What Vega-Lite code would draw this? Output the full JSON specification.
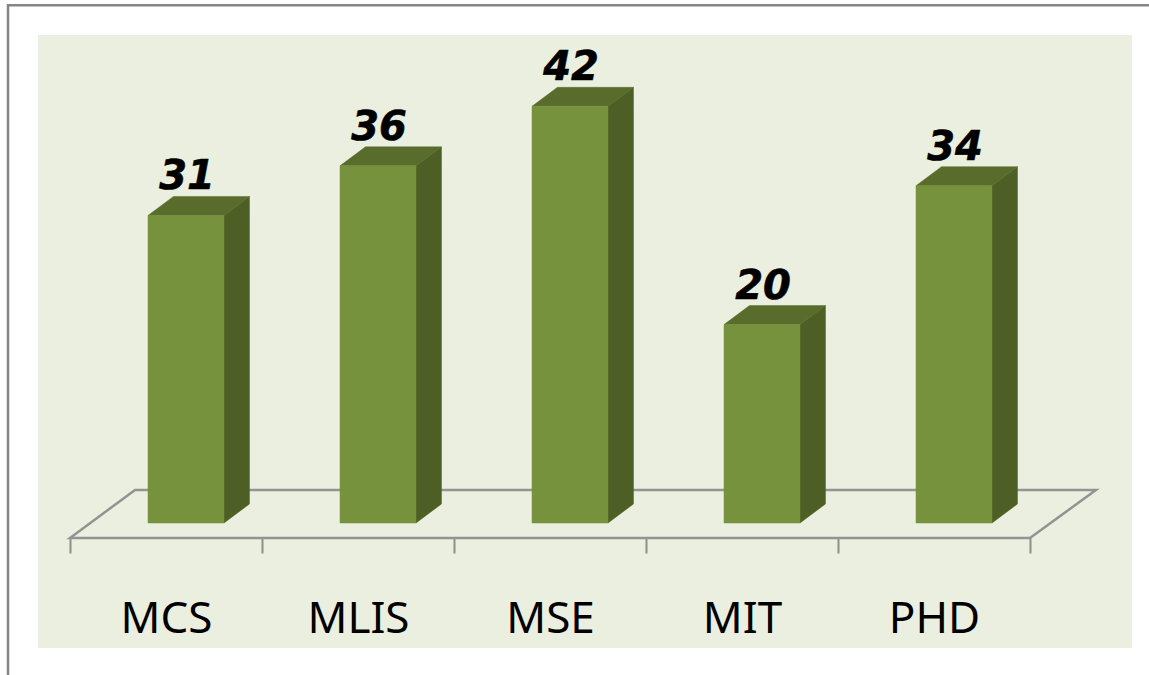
{
  "$schema": "https://vega.github.io/schema/vega-lite/v6.json",
  "width": 1094,
  "height": 613,
  "padding": {"left": 38, "top": 35, "right": 17, "bottom": 27},
  "autosize": "none",
  "background": "#ffffff",
  "view": {"fill": "#EBEFDF", "stroke": null},
  "datasets": {
    "bars": [
      {"program": "MCS", "students": 31},
      {"program": "MLIS", "students": 36},
      {"program": "MSE", "students": 42},
      {"program": "MIT", "students": 20},
      {"program": "PHD", "students": 34}
    ],
    "corners": [
      {"program": "MCS", "face": "side", "k": 1, "u": 1, "level": 31},
      {"program": "MCS", "face": "side", "k": 2, "u": 1.335, "level": 32.915},
      {"program": "MCS", "face": "side", "k": 3, "u": 1.335, "level": 1.915},
      {"program": "MCS", "face": "side", "k": 4, "u": 1, "level": 0},
      {"program": "MLIS", "face": "side", "k": 1, "u": 1, "level": 36},
      {"program": "MLIS", "face": "side", "k": 2, "u": 1.335, "level": 37.915},
      {"program": "MLIS", "face": "side", "k": 3, "u": 1.335, "level": 1.915},
      {"program": "MLIS", "face": "side", "k": 4, "u": 1, "level": 0},
      {"program": "MSE", "face": "side", "k": 1, "u": 1, "level": 42},
      {"program": "MSE", "face": "side", "k": 2, "u": 1.335, "level": 43.915},
      {"program": "MSE", "face": "side", "k": 3, "u": 1.335, "level": 1.915},
      {"program": "MSE", "face": "side", "k": 4, "u": 1, "level": 0},
      {"program": "MIT", "face": "side", "k": 1, "u": 1, "level": 20},
      {"program": "MIT", "face": "side", "k": 2, "u": 1.335, "level": 21.915},
      {"program": "MIT", "face": "side", "k": 3, "u": 1.335, "level": 1.915},
      {"program": "MIT", "face": "side", "k": 4, "u": 1, "level": 0},
      {"program": "PHD", "face": "side", "k": 1, "u": 1, "level": 34},
      {"program": "PHD", "face": "side", "k": 2, "u": 1.335, "level": 35.915},
      {"program": "PHD", "face": "side", "k": 3, "u": 1.335, "level": 1.915},
      {"program": "PHD", "face": "side", "k": 4, "u": 1, "level": 0},
      {"program": "MCS", "face": "top", "k": 1, "u": 0, "level": 31},
      {"program": "MCS", "face": "top", "k": 2, "u": 1, "level": 31},
      {"program": "MCS", "face": "top", "k": 3, "u": 1.335, "level": 32.915},
      {"program": "MCS", "face": "top", "k": 4, "u": 0.335, "level": 32.915},
      {"program": "MLIS", "face": "top", "k": 1, "u": 0, "level": 36},
      {"program": "MLIS", "face": "top", "k": 2, "u": 1, "level": 36},
      {"program": "MLIS", "face": "top", "k": 3, "u": 1.335, "level": 37.915},
      {"program": "MLIS", "face": "top", "k": 4, "u": 0.335, "level": 37.915},
      {"program": "MSE", "face": "top", "k": 1, "u": 0, "level": 42},
      {"program": "MSE", "face": "top", "k": 2, "u": 1, "level": 42},
      {"program": "MSE", "face": "top", "k": 3, "u": 1.335, "level": 43.915},
      {"program": "MSE", "face": "top", "k": 4, "u": 0.335, "level": 43.915},
      {"program": "MIT", "face": "top", "k": 1, "u": 0, "level": 20},
      {"program": "MIT", "face": "top", "k": 2, "u": 1, "level": 20},
      {"program": "MIT", "face": "top", "k": 3, "u": 1.335, "level": 21.915},
      {"program": "MIT", "face": "top", "k": 4, "u": 0.335, "level": 21.915},
      {"program": "PHD", "face": "top", "k": 1, "u": 0, "level": 34},
      {"program": "PHD", "face": "top", "k": 2, "u": 1, "level": 34},
      {"program": "PHD", "face": "top", "k": 3, "u": 1.335, "level": 35.915},
      {"program": "PHD", "face": "top", "k": 4, "u": 0.335, "level": 35.915},
      {"program": "MCS", "face": "front", "k": 1, "u": 0, "level": 31},
      {"program": "MCS", "face": "front", "k": 2, "u": 1, "level": 31},
      {"program": "MCS", "face": "front", "k": 3, "u": 1, "level": 0},
      {"program": "MCS", "face": "front", "k": 4, "u": 0, "level": 0},
      {"program": "MLIS", "face": "front", "k": 1, "u": 0, "level": 36},
      {"program": "MLIS", "face": "front", "k": 2, "u": 1, "level": 36},
      {"program": "MLIS", "face": "front", "k": 3, "u": 1, "level": 0},
      {"program": "MLIS", "face": "front", "k": 4, "u": 0, "level": 0},
      {"program": "MSE", "face": "front", "k": 1, "u": 0, "level": 42},
      {"program": "MSE", "face": "front", "k": 2, "u": 1, "level": 42},
      {"program": "MSE", "face": "front", "k": 3, "u": 1, "level": 0},
      {"program": "MSE", "face": "front", "k": 4, "u": 0, "level": 0},
      {"program": "MIT", "face": "front", "k": 1, "u": 0, "level": 20},
      {"program": "MIT", "face": "front", "k": 2, "u": 1, "level": 20},
      {"program": "MIT", "face": "front", "k": 3, "u": 1, "level": 0},
      {"program": "MIT", "face": "front", "k": 4, "u": 0, "level": 0},
      {"program": "PHD", "face": "front", "k": 1, "u": 0, "level": 34},
      {"program": "PHD", "face": "front", "k": 2, "u": 1, "level": 34},
      {"program": "PHD", "face": "front", "k": 3, "u": 1, "level": 0},
      {"program": "PHD", "face": "front", "k": 4, "u": 0, "level": 0}
    ],
    "floor": [
      {"program": "MCS", "k": 1, "u": -1.026, "level": -1.51},
      {"program": "MCS", "k": 2, "u": -0.171, "level": 3.33},
      {"program": "PHD", "k": 3, "u": 2.368, "level": 3.33},
      {"program": "PHD", "k": 4, "u": 1.5, "level": -1.51}
    ],
    "frame": [
      {"program": "MCS", "k": 1, "u": -1.842, "level": -16},
      {"program": "MCS", "k": 2, "u": -1.842, "level": 52.2},
      {"program": "PHD", "k": 3, "u": 3.07, "level": 52.2}
    ]
  },
  "encoding": {
    "x": {
      "field": "program",
      "type": "nominal",
      "sort": null,
      "title": null,
      "scale": {"domain": ["MCS", "MLIS", "MSE", "MIT", "PHD"], "range": [32, 992], "paddingInner": 0, "paddingOuter": 0},
      "axis": {
        "orient": "bottom",
        "offset": -110,
        "domain": false,
        "tickBand": "extent",
        "tickSize": 15,
        "tickColor": "#8f8f8f",
        "tickWidth": 2,
        "labelAngle": 0,
        "labelFont": "Noto Sans",
        "labelFontSize": 44,
        "labelColor": "#000000",
        "labelPadding": 44,
        "labelBaseline": "top",
        "grid": false
      }
    },
    "y": {
      "field": "level",
      "type": "quantitative",
      "title": null,
      "scale": {"domain": [-12.6, 49.19], "nice": false, "zero": false},
      "axis": null
    },
    "xOffset": {"field": "u", "type": "quantitative", "scale": {"domain": [0, 1], "range": [78, 154]}}
  },
  "layer": [
    {
      "data": {"name": "frame"},
      "mark": {"type": "line", "stroke": "#858585", "strokeWidth": 2.5, "clip": false},
      "encoding": {"order": {"field": "k", "type": "quantitative"}}
    },
    {
      "data": {"name": "floor"},
      "mark": {"type": "line", "stroke": "#939393", "strokeWidth": 2.5, "interpolate": "linear-closed"},
      "encoding": {"order": {"field": "k", "type": "quantitative"}}
    },
    {
      "data": {"name": "corners"},
      "transform": [{"filter": "datum.face === 'side'"}],
      "mark": {"type": "line", "fill": "#4D5F25", "stroke": "#4D5F25", "strokeWidth": 0.5, "interpolate": "linear-closed"},
      "encoding": {"detail": {"field": "program"}, "order": {"field": "k", "type": "quantitative"}}
    },
    {
      "data": {"name": "corners"},
      "transform": [{"filter": "datum.face === 'top'"}],
      "mark": {"type": "line", "fill": "#5A6C2C", "stroke": "#5A6C2C", "strokeWidth": 0.5, "interpolate": "linear-closed"},
      "encoding": {"detail": {"field": "program"}, "order": {"field": "k", "type": "quantitative"}}
    },
    {
      "data": {"name": "corners"},
      "transform": [{"filter": "datum.face === 'front'"}],
      "mark": {"type": "line", "fill": "#76923C", "stroke": "#76923C", "strokeWidth": 0.5, "interpolate": "linear-closed"},
      "encoding": {"detail": {"field": "program"}, "order": {"field": "k", "type": "quantitative"}}
    },
    {
      "data": {"name": "bars"},
      "mark": {"type": "text", "font": "DejaVu Sans", "fontWeight": "bold", "fontStyle": "italic", "fontSize": 40, "color": "#000000", "stroke": "#000000", "strokeWidth": 0.6, "align": "center", "baseline": "alphabetic", "dx": 21, "dy": -26},
      "encoding": {
        "xOffset": {"value": 96},
        "y": {"field": "students", "type": "quantitative"},
        "text": {"field": "students", "type": "quantitative"}
      }
    }
  ]
}
